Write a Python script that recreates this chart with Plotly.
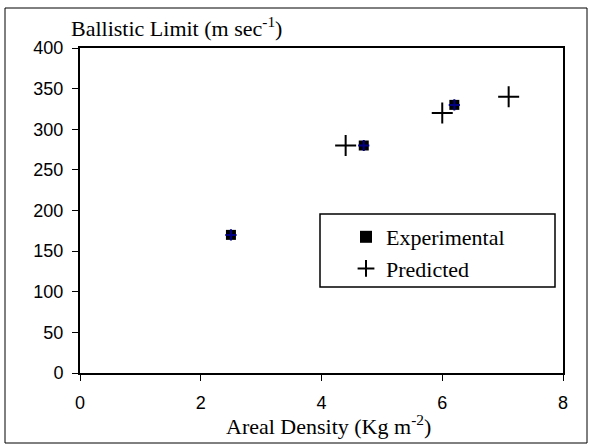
import plotly.graph_objects as go

exp_x = [2.5, 4.7, 6.2]
exp_y = [170, 280, 330]
pred_x = [4.4, 6.0, 7.1]
pred_y = [280, 320, 340]
x_ticks = [0, 2, 4, 6, 8]
y_ticks = [0, 50, 100, 150, 200, 250, 300, 350, 400]

L, R, T, B = 80, 26, 48, 72
W, H = 589, 445
pw, ph = W - L - R, H - T - B

def px2paper_x(p):
    return (p - L) / pw

def px2paper_y(p):
    return (H - B - p) / ph

fig = go.Figure()
fig.add_trace(go.Scatter(x=exp_x, y=exp_y, mode="markers", name="Experimental",
                         marker=dict(symbol="square", size=10, color="black")))
fig.add_trace(go.Scatter(x=exp_x, y=exp_y, mode="markers", showlegend=False,
                         marker=dict(symbol="cross-thin", size=8, color="#000080",
                                     line=dict(width=2, color="#000080"))))
fig.add_trace(go.Scatter(x=pred_x, y=pred_y, mode="markers", name="Predicted",
                         marker=dict(symbol="cross-thin", size=15, color="black",
                                     line=dict(width=2, color="black"))))

axis_common = dict(showgrid=False, zeroline=False, showline=True, linecolor="black",
                   linewidth=2, mirror=True, ticks="outside", ticklen=6, tickwidth=1,
                   tickcolor="black",
                   tickfont=dict(family="Liberation Sans, Arial", size=18, color="black"))
fig.update_xaxes(range=[0, 8], tickvals=x_ticks, ticklabelstandoff=6, **axis_common)
fig.update_yaxes(range=[0, 400], tickvals=y_ticks, ticklabelstandoff=5, **axis_common)

serif = "Liberation Serif, Times New Roman, serif"
fig.add_annotation(text="Ballistic Limit (m sec<sup>-1</sup>)", xref="paper", yref="paper",
                   x=px2paper_x(69), y=px2paper_y(27), xanchor="left", yanchor="middle",
                   showarrow=False, font=dict(family=serif, size=22, color="black"))
fig.add_annotation(text="Areal Density (Kg m<sup>-2</sup>)", xref="paper", yref="paper",
                   x=px2paper_x(328), y=px2paper_y(425), xanchor="center", yanchor="middle",
                   showarrow=False, font=dict(family=serif, size=22, color="black"))

# outer chart border
fig.add_shape(type="rect", xref="paper", yref="paper",
              x0=px2paper_x(5), x1=px2paper_x(587), y0=px2paper_y(443), y1=px2paper_y(8),
              line=dict(color="black", width=1))
# legend box
fig.add_shape(type="rect", xref="paper", yref="paper",
              x0=px2paper_x(320), x1=px2paper_x(555), y0=px2paper_y(287), y1=px2paper_y(214),
              line=dict(color="black", width=1.5), fillcolor="white", layer="below")

fig.update_layout(
    width=W, height=H, margin=dict(l=L, r=R, t=T, b=B),
    paper_bgcolor="white", plot_bgcolor="rgba(0,0,0,0)",
    legend=dict(x=px2paper_x(346), y=px2paper_y(216), xanchor="left", yanchor="top",
                borderwidth=0, bgcolor="rgba(0,0,0,0)",
                font=dict(family=serif, size=22, color="black"),
                itemsizing="constant", itemwidth=30, tracegroupgap=0),
)

fig.write_html("out.html", config={"displayModeBar": False},
               post_script="document.body.style.margin='0';document.body.style.overflow='hidden';")
